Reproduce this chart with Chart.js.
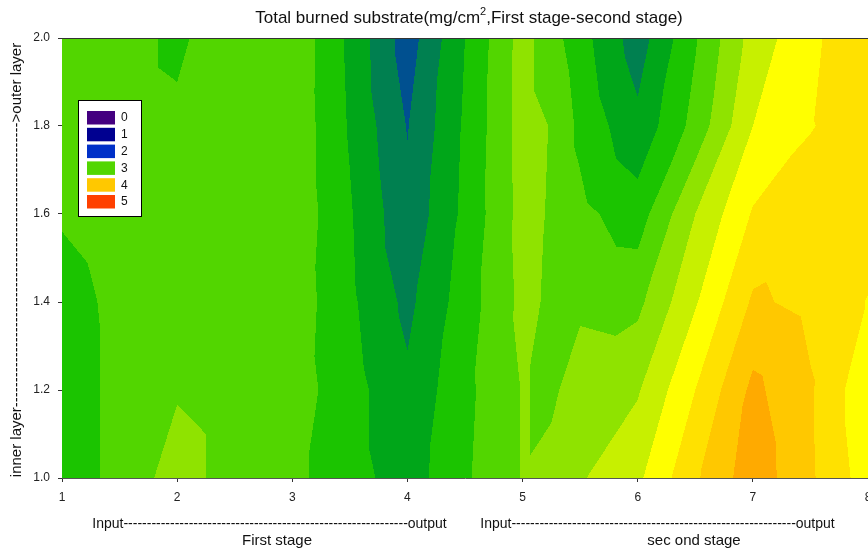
<!DOCTYPE html>
<html>
<head>
<meta charset="utf-8">
<script src="https://cdn.jsdelivr.net/npm/chart.js@4.4.1/dist/chart.umd.min.js"></script>
<style>
  html, body { margin: 0; padding: 0; background: #fff; }
  #wrap { width: 868px; height: 548px; }
</style>
</head>
<body>
<div id="wrap"><canvas id="chart" width="868" height="548"></canvas></div>
<script>
// grid of sampled positions
var xGrid = [1, 1.5, 2, 2.5, 3, 3.5, 4, 4.5, 5, 5.25, 5.5, 6, 6.5, 7, 7.5, 8];
var yGrid = [1.0, 1.2, 1.4, 1.6, 1.8, 2.0];

// burned substrate, one row per layer position
var zAt10 = [2.9, 3.05, 3.3, 3.1, 3.05, 2.88, 2.7, 2.97, 3.21, 3.25, 3.38, 3.56, 3.97, 4.32, 4.03, 3.7];
var zAt12 = [2.9, 3.05, 3.18, 3.1, 3.1, 2.88, 2.64, 2.95, 3.21, 3.17, 3.28, 3.38, 3.8, 4.25, 4.02, 3.65];
var zAt14 = [2.92, 3.05, 3.1, 3.1, 3.12, 2.84, 2.55, 2.9, 3.25, 3.17, 3.17, 3.15, 3.58, 4.03, 3.95, 3.79];
var zAt16 = [3.02, 3.1, 3.1, 3.1, 3.15, 2.82, 2.45, 2.85, 3.27, 3.18, 3.05, 2.9, 3.4, 3.82, 3.9, 3.92];
var zAt18 = [3.1, 3.1, 3.05, 3.1, 3.15, 2.78, 2.39, 2.83, 3.28, 3.19, 2.95, 2.65, 3.07, 3.6, 3.79, 3.9];
var zAt20 = [3.1, 3.1, 2.95, 3.18, 3.16, 2.76, 2.3, 2.8, 3.28, 3.08, 2.88, 2.5, 2.98, 3.48, 3.76, 3.95];

// contour levels (lower bound of each band) and fill colours
var levels = [2.0, 2.2, 2.4, 2.6, 2.8, 3.0, 3.2, 3.4, 3.6, 3.8, 4.0, 4.2, 4.4];
var levelColors = ['#0030c8', '#005090', '#008050', '#00a619', '#1bc400', '#52d600', '#8fe300',
                   '#c7f000', '#ffff00', '#ffe100', '#ffc800', '#ffaa00', '#ff7a00'];

var xTicks = [1, 2, 3, 4, 5, 6, 7, 8];
var yTicks = [1.0, 1.2, 1.4, 1.6, 1.8, 2.0];

var legendLabels = ['0', '1', '2', '3', '4', '5'];
var legendColors = ['#440080', '#000090', '#0030c8', '#52d600', '#ffc800', '#ff4000'];

var zRows = [zAt10, zAt12, zAt14, zAt16, zAt18, zAt20];

var FONT = '"Liberation Sans", Arial, Helvetica, sans-serif';

function findCell(arr, v) {
    for (var i = 0; i < arr.length - 2; i++) {
        if (v < arr[i + 1]) return i;
    }
    return arr.length - 2;
}

// linear interpolation on the two triangles of each grid cell
function sampleZ(x, y) {
    var i = findCell(xGrid, x);
    var j = findCell(yGrid, y);
    var tx = (x - xGrid[i]) / (xGrid[i + 1] - xGrid[i]);
    var ty = (y - yGrid[j]) / (yGrid[j + 1] - yGrid[j]);
    tx = Math.max(0, Math.min(1, tx));
    ty = Math.max(0, Math.min(1, ty));
    var a = zRows[j][i], b = zRows[j][i + 1];
    var c = zRows[j + 1][i], d = zRows[j + 1][i + 1];
    if (tx >= ty) {
        return a + (b - a) * tx + (d - b) * ty;
    }
    return a + (d - c) * tx + (c - a) * ty;
}

function hexToRgb(hex) {
    var n = parseInt(hex.slice(1), 16);
    return [(n >> 16) & 255, (n >> 8) & 255, n & 255];
}

function colorForValue(z) {
    var k = 0;
    for (var i = 0; i < levels.length; i++) {
        if (z >= levels[i]) k = i;
    }
    return levelColors[k];
}

// paints the filled contour field through the chart scales
var contourPlugin = {
    id: 'contourField',
    beforeDatasetsDraw: function(chart) {
        var area = chart.chartArea;
        var xs = chart.scales.x, ys = chart.scales.y;
        var w = Math.round(area.right - area.left);
        var h = Math.round(area.bottom - area.top);
        var off = document.createElement('canvas');
        off.width = w;
        off.height = h;
        var octx = off.getContext('2d');
        var img = octx.createImageData(w, h);
        var rgbCache = {};
        var xVals = [];
        for (var px = 0; px < w; px++) {
            xVals.push(xs.getValueForPixel(area.left + px + 0.5));
        }
        for (var py = 0; py < h; py++) {
            var yv = ys.getValueForPixel(area.top + py + 0.5);
            for (var px2 = 0; px2 < w; px2++) {
                var col = colorForValue(sampleZ(xVals[px2], yv));
                var rgb = rgbCache[col] || (rgbCache[col] = hexToRgb(col));
                var idx = (py * w + px2) * 4;
                img.data[idx] = rgb[0];
                img.data[idx + 1] = rgb[1];
                img.data[idx + 2] = rgb[2];
                img.data[idx + 3] = 255;
            }
        }
        octx.putImageData(img, 0, 0);
        chart.ctx.drawImage(off, area.left, area.top);
    }
};

// legend, titles and frame
var decorPlugin = {
    id: 'decor',
    afterDraw: function(chart) {
        var ctx = chart.ctx;
        var area = chart.chartArea;
        ctx.save();

        // top frame line
        ctx.strokeStyle = '#333';
        ctx.lineWidth = 1;
        ctx.beginPath();
        ctx.moveTo(area.left, area.top + 0.5);
        ctx.lineTo(area.right, area.top + 0.5);
        ctx.stroke();

        // legend box
        ctx.fillStyle = '#fff';
        ctx.fillRect(78, 100, 64, 117);
        ctx.strokeStyle = '#000';
        ctx.strokeRect(78.5, 100.5, 63, 116);
        ctx.font = '12px ' + FONT;
        ctx.textBaseline = 'middle';
        ctx.textAlign = 'left';
        for (var i = 0; i < legendLabels.length; i++) {
            var top = 111 + i * 16.8;
            ctx.fillStyle = legendColors[i];
            ctx.fillRect(87, top, 28, 13.5);
            ctx.fillStyle = '#111';
            ctx.fillText(legendLabels[i], 121, top + 7);
        }

        // title with superscript
        ctx.fillStyle = '#111';
        ctx.textBaseline = 'alphabetic';
        var t1 = 'Total burned substrate(mg/cm';
        var t2 = ',First stage-second stage)';
        ctx.font = '17px ' + FONT;
        var w1 = ctx.measureText(t1).width;
        var w3 = ctx.measureText(t2).width;
        ctx.font = '11px ' + FONT;
        var w2 = ctx.measureText('2').width;
        var start = 469 - (w1 + w2 + w3) / 2;
        ctx.font = '17px ' + FONT;
        ctx.fillText(t1, start, 23);
        ctx.font = '11px ' + FONT;
        ctx.fillText('2', start + w1, 15);
        ctx.font = '17px ' + FONT;
        ctx.fillText(t2, start + w1 + w2, 23);

        // x-axis annotations
        ctx.font = '14px ' + FONT;
        drawDashed(ctx, 'Input', 'output', 92, 447, 528);
        drawDashed(ctx, 'Input', 'output', 480, 835, 528);
        ctx.font = '15px ' + FONT;
        ctx.textAlign = 'center';
        ctx.fillText('First stage', 277, 545);
        ctx.fillText('sec ond stage', 694, 545);

        // y-axis annotation (rotated)
        ctx.font = '15px ' + FONT;
        ctx.translate(21, 477);
        ctx.rotate(-Math.PI / 2);
        drawDashed(ctx, 'inner layer', '>outer layer', 0, 434, 0);
        ctx.restore();
    }
};

function drawDashed(ctx, left, right, x0, x1, y) {
    var wl = ctx.measureText(left).width;
    var wr = ctx.measureText(right).width;
    var wd = ctx.measureText('-').width;
    var n = Math.max(0, Math.round((x1 - x0 - wl - wr) / wd));
    var s = left + new Array(n + 1).join('-') + right;
    var ws = ctx.measureText(s).width;
    ctx.textAlign = 'left';
    ctx.fillText(s, x0 + ((x1 - x0) - ws) / 2, y);
}

var config = {
    type: 'scatter',
    data: {
        datasets: [{
            data: [],
            showLine: false,
            pointRadius: 0
        }]
    },
    plugins: [contourPlugin, decorPlugin],
    options: {
        responsive: false,
        animation: false,
        devicePixelRatio: 1,
        layout: {
            padding: { top: 38, right: 0, left: 0, bottom: 0 }
        },
        plugins: {
            legend: { display: false },
            tooltip: { enabled: false },
            title: { display: false }
        },
        scales: {
            x: {
                type: 'linear',
                min: 1,
                max: 8,
                afterBuildTicks: function(scale) {
                    scale.ticks = xTicks.map(function(v) { return { value: v }; });
                },
                afterFit: function(scale) {
                    scale.height = 70;
                    scale.paddingLeft = 0;
                    scale.paddingRight = 0;
                },
                ticks: {
                    color: '#222',
                    font: { family: FONT, size: 12 },
                    padding: 8,
                    maxRotation: 0,
                    autoSkip: false,
                    callback: function(value) { return value.toString(); }
                },
                grid: {
                    display: true,
                    drawOnChartArea: false,
                    drawTicks: true,
                    tickLength: 4,
                    color: '#333'
                },
                border: { display: true, color: '#555' }
            },
            y: {
                type: 'linear',
                min: 1.0,
                max: 2.0,
                afterBuildTicks: function(scale) {
                    scale.ticks = yTicks.map(function(v) { return { value: v }; });
                },
                afterFit: function(scale) {
                    scale.width = 62;
                    scale.paddingTop = 0;
                    scale.paddingBottom = 0;
                },
                ticks: {
                    color: '#222',
                    font: { family: FONT, size: 12 },
                    padding: 8,
                    autoSkip: false,
                    callback: function(value) { return value.toFixed(1); }
                },
                grid: {
                    display: true,
                    drawOnChartArea: false,
                    drawTicks: true,
                    tickLength: 4,
                    color: '#333'
                },
                border: { display: true, color: '#555' }
            }
        }
    }
};

new Chart(document.getElementById('chart'), config);
</script>
</body>
</html>
